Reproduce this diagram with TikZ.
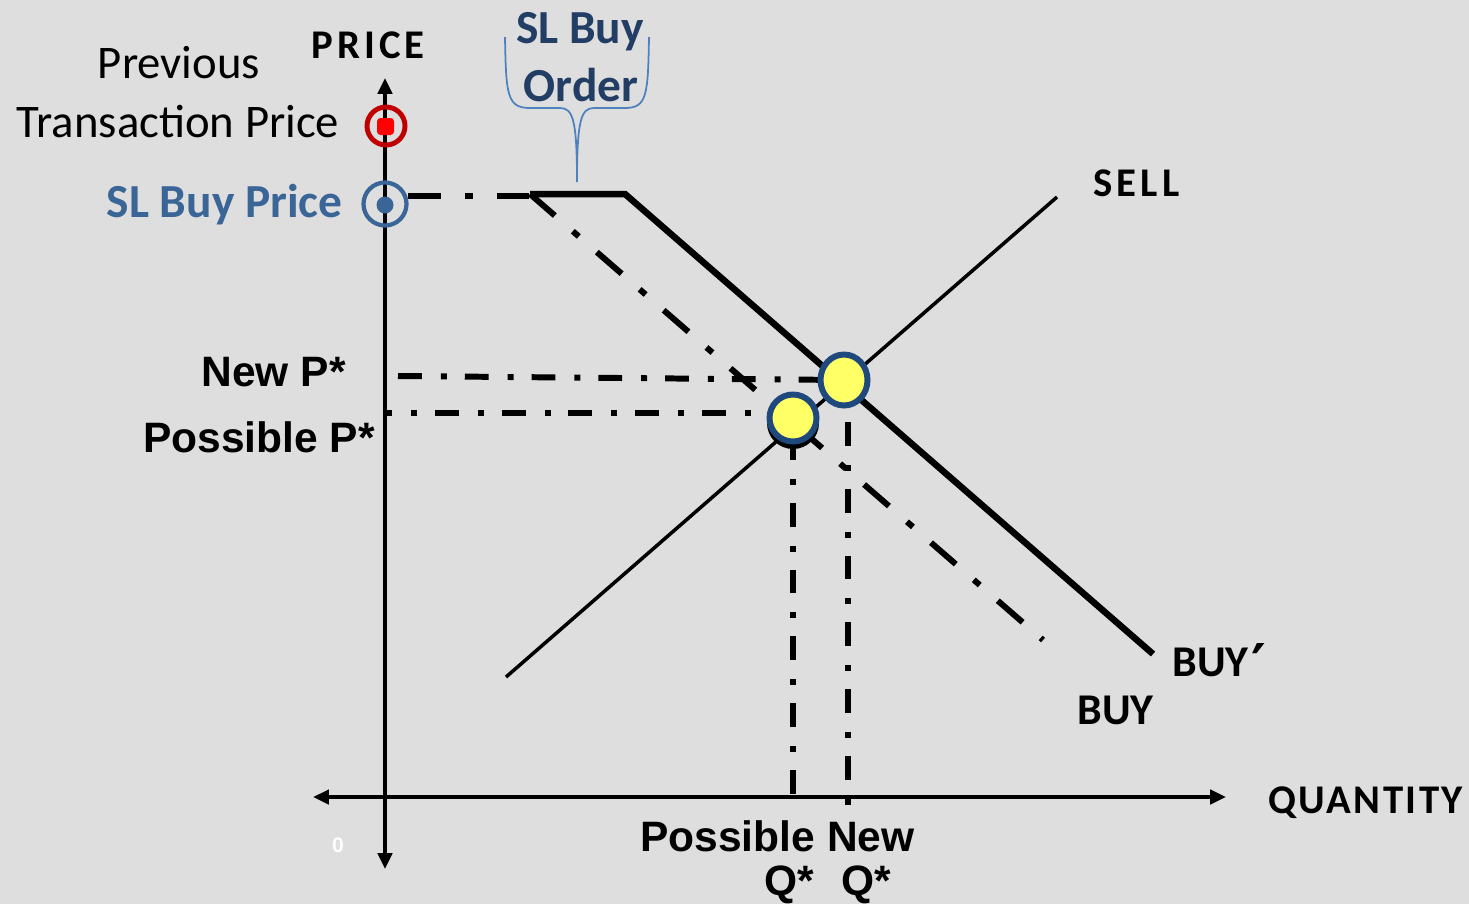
\documentclass[tikz,border=0pt]{standalone}
\usepackage{fontspec}
\setmainfont{Carlito}
\newfontfamily\arial{Liberation Sans}
\newfontfamily\djv{DejaVu Sans}
\newfontfamily\calsp{Carlito}[LetterSpace=10]
\newfontfamily\calspq{Carlito}[LetterSpace=6]
\usetikzlibrary{arrows.meta}
\definecolor{bg}{HTML}{DEDEDE}
\definecolor{ringred}{HTML}{C00000}
\definecolor{dotred}{HTML}{FF0000}
\definecolor{slblue}{HTML}{3A6597}
\definecolor{ordblue}{HTML}{233E64}
\definecolor{bracec}{HTML}{4F81BD}
\definecolor{yel}{HTML}{FFFF66}
\definecolor{ybord}{HTML}{1F497D}
\tikzset{
  axis/.style={line width=2.3pt, {Triangle[length=9pt,width=8pt]}-{Triangle[length=9pt,width=8pt]}},
  ddshort/.style={line width=3.4pt, dash pattern=on 13.6pt off 10.8pt on 3.4pt off 10.2pt},
  ddlong/.style={line width=3.4pt, dash pattern=on 18.7pt off 13.6pt on 4.5pt off 13.6pt},
  callab/.style={font=\bfseries\fontsize{25}{30}\selectfont, anchor=base west, inner sep=0pt},
  arlab/.style={font=\arial\bfseries\fontsize{24.2}{28}\selectfont, inner sep=0pt},
}
\begin{document}
\begin{tikzpicture}[x=0.02cm, y=-0.02cm]
\fill[bg] (0,0) rectangle (1469,904);
\useasboundingbox (0,0) rectangle (1469,904);

% coordinates
\coordinate (vtop) at (385,78);
\coordinate (vbot) at (385,869);
\coordinate (hleft) at (313,797);
\coordinate (hright) at (1226,797);
\coordinate (slstart) at (408,196);
\coordinate (corner) at (530,194);
\coordinate (kink) at (625,194);
\coordinate (buypend) at (1153,654);
\coordinate (buyend) at (1043,640);
\coordinate (sellA) at (506,677);
\coordinate (sellB) at (1057,197);
\coordinate (eqN) at (844,380);
\coordinate (eqP) at (793,418);

% axes
\draw[axis] (vbot) -- (vtop);
\draw[axis] (hleft) -- (hright);

% SL buy order segments
\draw[ddlong] (slstart) -- (530,196);
\draw[line width=3.7pt] (corner) -- (kink) -- (buypend);
\draw[ddlong] (corner) -- (buyend);

% sell
\draw[line width=2pt] (sellA) -- (sellB);

% guide lines
\draw[ddshort] (398,376) -- (eqN);
\draw[ddshort, dash phase=9.6pt] (385,413) -- (770,413);
\draw[ddshort] (848,422) -- (848,806);
\draw[ddshort] (793,436) -- (793,797);

% equilibrium points
\fill[black] (793,423) ellipse [x radius=26, y radius=26];
\filldraw[draw=ybord, line width=3.4pt, fill=yel] (eqP) ellipse [x radius=23.5, y radius=23.5];
\filldraw[draw=ybord, line width=3.4pt, fill=yel] (eqN) ellipse [x radius=23.5, y radius=25.5];

% price markers
\draw[ringred, line width=2.8pt] (386,126) circle [radius=19];
\fill[dotred, rounded corners=2pt] (377,118) rectangle (394,135);
\draw[slblue, line width=2.4pt] (385,204) circle [radius=21.5];
\fill[slblue] (385,205) circle [radius=8.5];

% brace
\draw[bracec, line width=1pt] (505,37) .. controls (506,95) and (507,108) .. (530,108)
  -- (560,108) .. controls (573,108) and (577,120) .. (577,182)
  .. controls (577,120) and (581,108) .. (594,108) -- (625,108)
  .. controls (647,108) and (648,95) .. (649,37);

% texts
\node[anchor=base, inner sep=0pt, font=\calsp\bfseries\fontsize{23.2}{28}\selectfont] (price) at (368,58) {PRICE};
\node[anchor=base, inner sep=0pt, font=\fontsize{26.6}{32}\selectfont] (prev1) at (179,78) {Previous};
\node[anchor=base, inner sep=0pt, font=\fontsize{26.6}{32}\selectfont] (prev2) at (178,137) {Transaction Price};
\node[anchor=base east, inner sep=0pt, text=slblue, font=\bfseries\fontsize{27}{32}\selectfont] (slprice) at (343,217) {SL Buy Price};
\node[anchor=base, inner sep=0pt, text=ordblue, font=\bfseries\fontsize{27}{32}\selectfont] (slbuy) at (580,43) {SL Buy};
\node[anchor=base, inner sep=0pt, text=ordblue, font=\bfseries\fontsize{27}{32}\selectfont] (order) at (581,101) {Order};

\node[arlab, anchor=base east] (newp) at (346,386) {New P*};
\node[arlab, anchor=base east] (posp) at (375,452) {Possible P*};
\node[arlab, anchor=base west] (posnew) at (640,851) {Possible New};
\node[arlab, anchor=base west] (q1) at (764,895) {Q*};
\node[arlab, anchor=base west] (q2) at (841,895) {Q*};

\node[anchor=base west, inner sep=0pt, font=\calsp\bfseries\fontsize{23.2}{28}\selectfont] (sell) at (1093,196) {SELL};
\node[callab] (buyp) at (1172,676) {BUY\kern1.5pt\raisebox{-5pt}{\djv\fontsize{32}{30}\selectfont ′}};
\node[callab] (buy) at (1077,724) {BUY};
\node[anchor=base west, inner sep=0pt, font=\calspq\bfseries\fontsize{23.2}{28}\selectfont] (qty) at (1268,813) {QUANTITY};
\node[anchor=center, inner sep=0pt, text=white, font=\arial\bfseries\fontsize{12}{14}\selectfont] (zero) at (338,845) {0};
\end{tikzpicture}
\end{document}
